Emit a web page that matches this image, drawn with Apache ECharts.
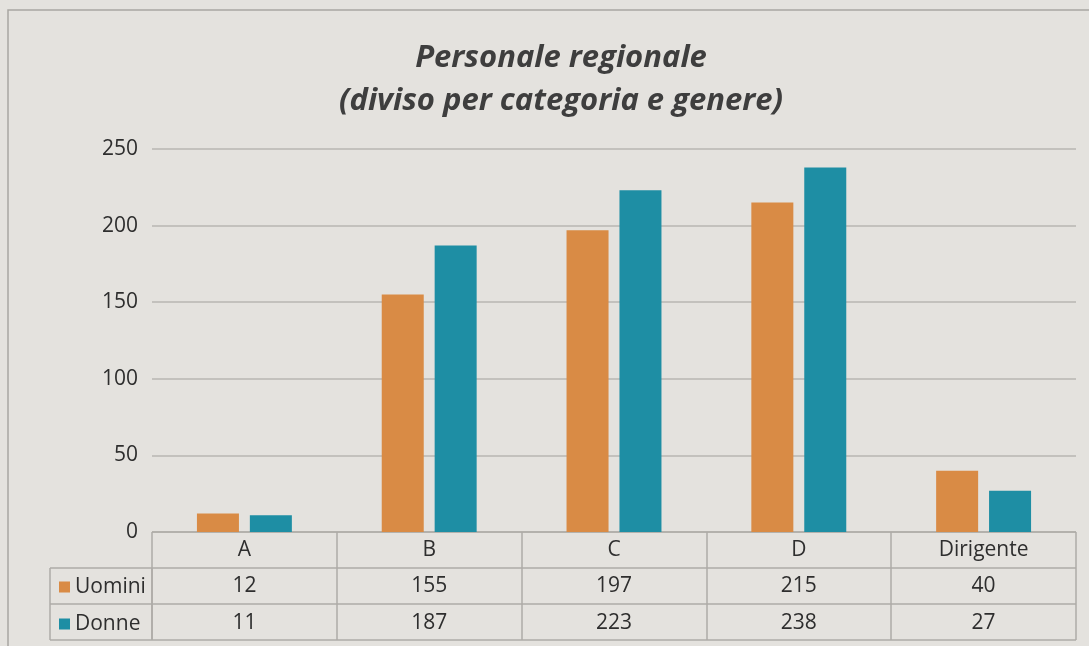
<!DOCTYPE html>
<html>
<head>
<meta charset="utf-8">
<script src="https://cdn.jsdelivr.net/npm/echarts@6/dist/echarts.min.js"></script>
<style>
  html, body { margin: 0; padding: 0; background: #e4e2de; }
  #chart { width: 1089px; height: 646px; }
</style>
</head>
<body>
<div id="chart"></div>
<script>
const categories = ['A', 'B', 'C', 'D', 'Dirigente']
const uomini = [12, 155, 197, 215, 40]
const donne = [11, 187, 223, 238, 27]
const seriesNames = ['Uomini', 'Donne']
const yTicks = { min: 0, max: 250, interval: 50 }

const chart = echarts.init(document.getElementById('chart'))
const font = 'Open Sans, Lato, sans-serif'
const lineCol = '#aeaba7'
const txt = '#2e2e2e'
const fs = 21

// row label axes of the data table, all hanging under the plot grid
const tableAxis = (offset, texts) => ({
    type: 'category',
    gridIndex: 0,
    position: 'bottom',
    offset: offset,
    data: categories,
    axisLine: { show: false },
    axisTick: { show: false },
    axisLabel: {
        interval: 0, margin: 8, color: txt, fontSize: fs, fontFamily: font,
        formatter: (v, i) => String(texts[i])
    }
})

const option = {
    backgroundColor: '#e4e2de',
    animation: false,
    title: {
        text: 'Personale regionale\n(diviso per categoria e genere)',
        left: 556, textAlign: 'center', top: 32,
        textStyle: { fontSize: 31, fontStyle: 'italic', fontWeight: 'bold', color: '#3e3e3e', fontFamily: font, lineHeight: 43 }
    },
    legend: {
        orient: 'vertical', left: 54, top: 570, itemGap: 13,
        itemWidth: 11, itemHeight: 11, icon: 'rect',
        textStyle: { fontSize: fs, color: txt, fontFamily: font, lineHeight: 24 },
        data: seriesNames
    },
    grid: [
        { left: 152, right: 13, top: 149, bottom: 114 },
        { left: 152, right: 13, top: 532, bottom: 6 },
        { left: 50, width: 102, top: 568, bottom: 6 }
    ],
    xAxis: [
        {
            type: 'category', gridIndex: 0, data: categories,
            axisLine: { show: false }, axisTick: { show: false },
            axisLabel: { interval: 0, margin: 8, color: txt, fontSize: fs, fontFamily: font }
        },
        tableAxis(36, uomini),
        tableAxis(73, donne),
        {
            type: 'category', gridIndex: 1, data: categories,
            axisLine: { show: false }, axisTick: { show: false }, axisLabel: { show: false },
            splitLine: { show: true, interval: 0, lineStyle: { color: lineCol, width: 1.5 } }
        },
        {
            type: 'value', gridIndex: 2, min: 0, max: 1, interval: 1,
            axisLine: { show: false }, axisTick: { show: false }, axisLabel: { show: false },
            splitLine: { show: true, lineStyle: { color: lineCol, width: 1.5 } }
        }
    ],
    yAxis: [
        {
            type: 'value', gridIndex: 0, min: yTicks.min, max: yTicks.max, interval: yTicks.interval,
            axisLine: { show: false }, axisTick: { show: false },
            axisLabel: { color: txt, fontSize: fs, fontFamily: font, margin: 14 },
            splitLine: { lineStyle: { color: '#b9b6b2', width: 1.5 } }
        },
        {
            type: 'value', gridIndex: 1, min: 0, max: 3, interval: 1,
            axisLine: { show: false }, axisTick: { show: false }, axisLabel: { show: false },
            splitLine: { lineStyle: { color: lineCol, width: 1.5 } }
        },
        {
            type: 'value', gridIndex: 2, min: 0, max: 2, interval: 1,
            axisLine: { show: false }, axisTick: { show: false }, axisLabel: { show: false },
            splitLine: { lineStyle: { color: lineCol, width: 1.5 } }
        }
    ],
    graphic: [{
        type: 'rect', silent: true,
        shape: { x: 8, y: 10, width: 1100, height: 660 },
        style: { fill: null, stroke: '#a8a6a2', lineWidth: 1.5 }
    }],
    series: [
        {
            name: seriesNames[0], type: 'bar', data: uomini,
            barWidth: 42, barGap: '26%',
            itemStyle: { color: '#d98b45' }
        },
        {
            name: seriesNames[1], type: 'bar', data: donne,
            barWidth: 42,
            itemStyle: { color: '#1e8ea4' }
        }
    ]
}
chart.setOption(option)
</script>
</body>
</html>
